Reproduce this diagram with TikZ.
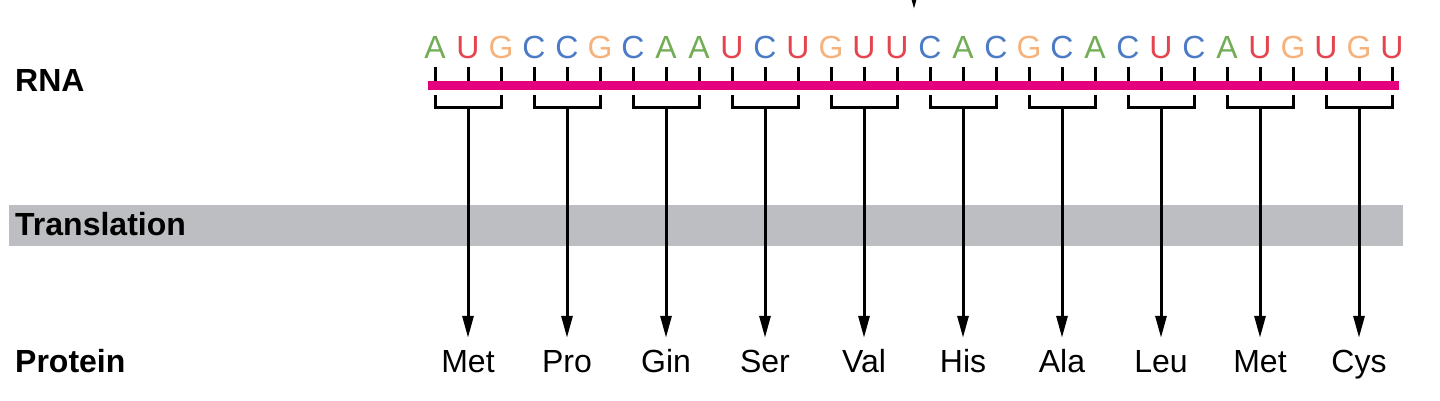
\documentclass[tikz,border=0pt]{standalone}
\usepackage{fontspec}
\setmainfont{Liberation Sans}
\usetikzlibrary{arrows.meta}
\definecolor{strandpink}{HTML}{E4007C}
\definecolor{bandgray}{HTML}{BDBEC2}
\definecolor{baseA}{HTML}{72AD55}
\definecolor{baseU}{HTML}{E5444F}
\definecolor{baseG}{HTML}{F5B27C}
\definecolor{baseC}{HTML}{4B7BC6}

\begin{document}
\begin{tikzpicture}[
  x=1pt, y=-1pt, font=\fontsize{32}{38}\selectfont,
  nuc/.style={inner sep=0pt, anchor=base},
  rowlabel/.style={inner sep=0pt, anchor=base west, font=\fontsize{32}{38}\selectfont\bfseries},
  amino/.style={inner sep=0pt, anchor=base, text height=23pt, text depth=7pt},
  tick/.style={line width=3pt},
  ar/.style={-{Triangle[length=22pt,width=11pt]}, line width=3pt}
]
\useasboundingbox (0,0) rectangle (1440,400);

% row labels and band
\fill[bandgray] (9,205) rectangle (1403,246);
\node[rowlabel] (rna) at (15,91) {RNA};
\node[rowlabel] (transl) at (15,235) {Translation};
\node[rowlabel] (prot) at (15,372) {Protein};

% arrow coming in from above
\coordinate (tx-from) at (914,-30);
\coordinate (tx-to) at (914,9);
\draw[ar] (tx-from) -- (tx-to);

% bases and ticks
\foreach \b [count=\i from 0] in {A,U,G,C,C,G,C,A,A,U,C,U,G,U,U,C,A,C,G,C,A,C,U,C,A,U,G,U,G,U} {
  \node[nuc, text=base\b] (n\i) at (435+33*\i,58) {\b};
  \coordinate (t\i) at (435+33*\i,67);
  \draw[tick] (t\i) -- ++(0,16);
}
\coordinate (rna-l) at (428,85);
\coordinate (rna-r) at (1399,85);
\draw[strandpink, line width=9pt] (rna-l) -- (rna-r);

% codons to amino acids
\foreach \aa [count=\k from 0] in {Met,Pro,Gin,Ser,Val,His,Ala,Leu,Met,Cys} {
  \coordinate (c\k) at (468+99*\k,107);
  \draw[tick] (435+99*\k,95) |- (c\k) -| (501+99*\k,95);
  \node[amino] (aa\k) at (468+99*\k,372) {\aa};
  \draw[ar, shorten >=11pt] (c\k) -- (aa\k.north);
}
\end{tikzpicture}
\end{document}
